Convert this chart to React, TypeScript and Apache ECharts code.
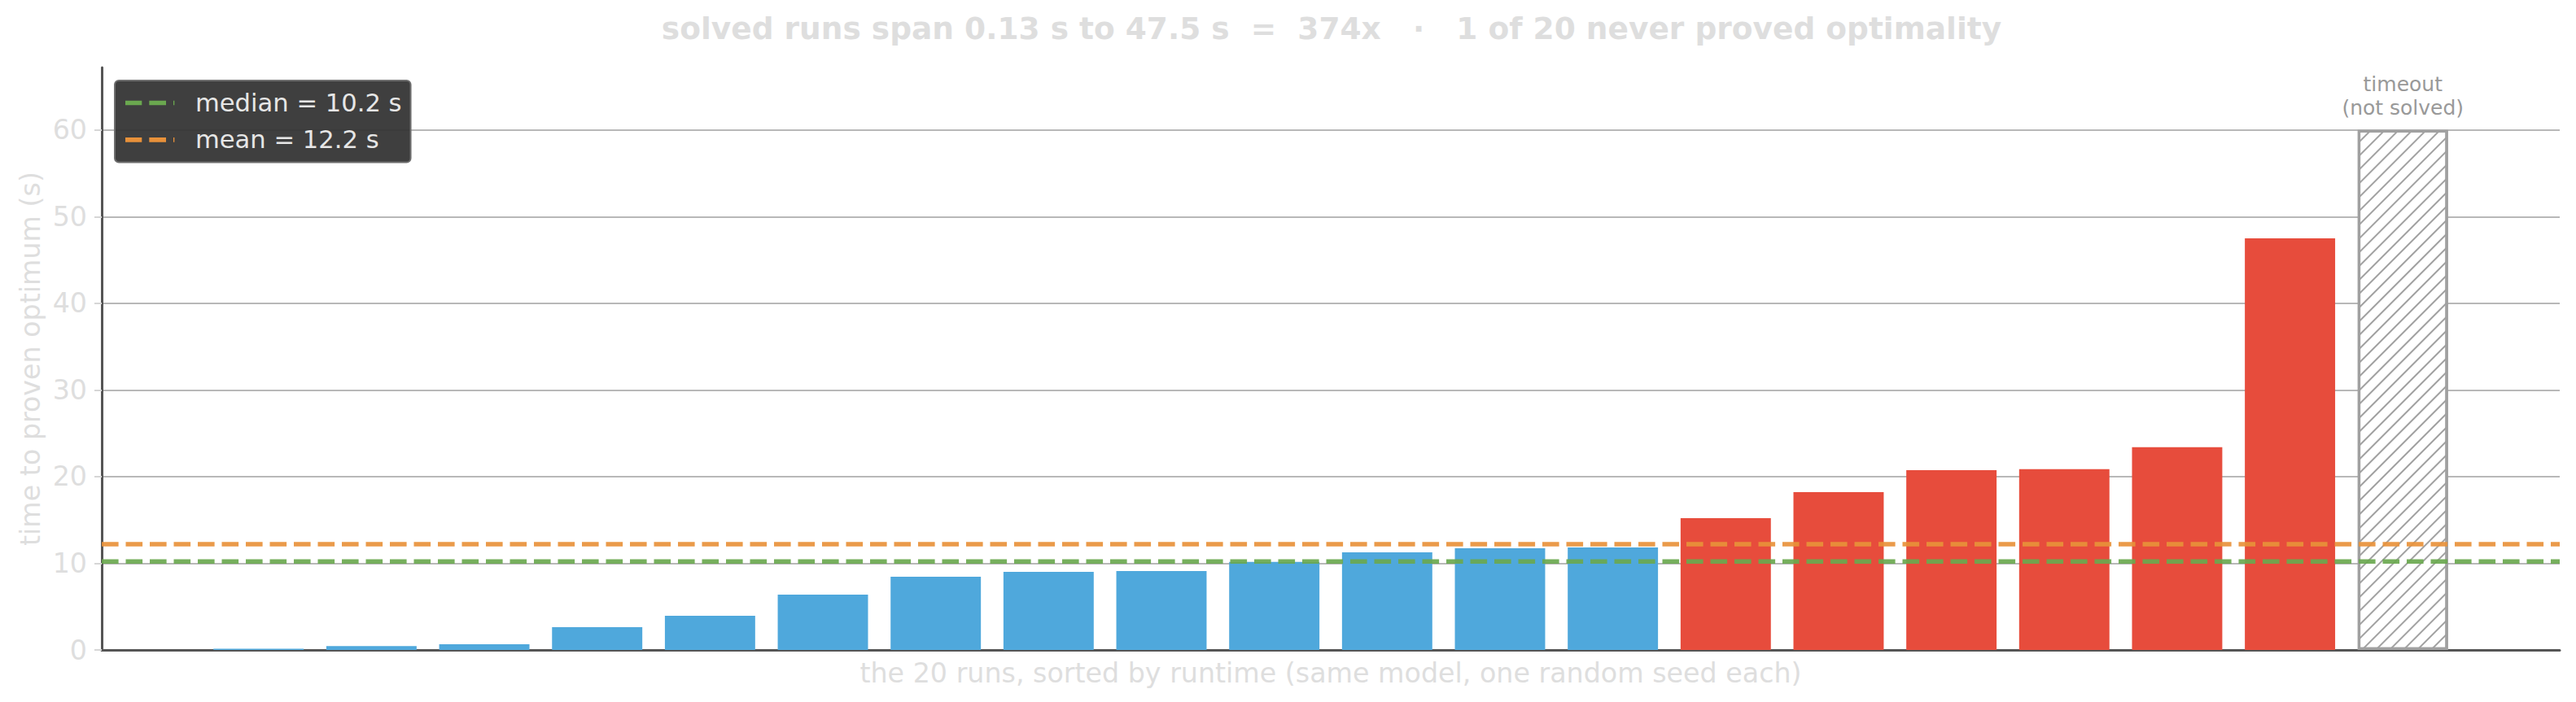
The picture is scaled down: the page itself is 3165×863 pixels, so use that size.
import React, { useEffect, useRef } from "react";
import * as echarts from "echarts";

// ---- data ----
const RUN_TIMES_S = [
  0.13, 0.45, 0.65, 2.63, 3.94, 6.38, 8.45, 9.0, 9.1, 10.15,
  11.27, 11.73, 11.83, 15.2, 18.2, 20.75, 20.85, 23.4, 47.5,
];
const TIMEOUT_S = 60;
const TIMEOUT_LABEL = "timeout\n(not solved)";
const MEDIAN_S = 10.2;
const MEAN_S = 12.2;
const Y_TICKS = [0, 10, 20, 30, 40, 50, 60];
const Y_MAX = 67.2;
const X_MIN = -1.39;
const X_MAX = 20.39;

const TITLE =
  "solved runs span 0.13 s to 47.5 s  =  374x   \u00b7   1 of 20 never proved optimality";
const X_NAME = "the 20 runs, sorted by runtime (same model, one random seed each)";
const Y_NAME = "time to proven optimum (s)";
const MEDIAN_NAME = "median = 10.2 s";
const MEAN_NAME = "mean = 12.2 s";

// ---- styles ----
const BLUE = "#4fa8dc";
const RED = "#e74c3c";
const GREEN = "#6aa84f";
const ORANGE = "#e8913a";
const HATCH = "#a0a0a0";
const LIGHT_TEXT = "#dedede";
const FONT = "DejaVu Sans";

const W = 3165;
const H = 863;

// legend icon: two dashes and a stub, like a matplotlib dashed handle
const LEGEND_ICON =
  "path://M0 0L20.3 0L20.3 5.56L0 5.56Z M29.3 0L50 0L50 5.56L29.3 5.56Z M59 0L60.3 0L60.3 5.56L59 5.56Z M81 0L81 5.56";

export default function App() {
  const ref = useRef<HTMLDivElement>(null);

  useEffect(() => {
    if (!ref.current) return;
    const chart = echarts.init(ref.current, null, { renderer: "svg" });

    const barData: any[] = RUN_TIMES_S.map((v, i) => ({
      value: [i, v],
      itemStyle: { color: v > MEAN_S ? RED : BLUE },
    }));
    barData.push({
      value: [RUN_TIMES_S.length, TIMEOUT_S],
      itemStyle: {
        color: "#ffffff",
        borderColor: HATCH,
        borderWidth: 3.3,
        decal: {
          symbol: "rect",
          symbolSize: 1,
          color: HATCH,
          backgroundColor: "#ffffff",
          dashArrayX: [1, 0],
          dashArrayY: [2, 10],
          rotation: -Math.PI / 4,
        },
      },
      label: {
        show: true,
        position: "top",
        distance: 13,
        formatter: TIMEOUT_LABEL,
        color: "#999999",
        fontSize: 25,
        lineHeight: 28.5,
        fontFamily: FONT,
        align: "center",
      },
    });

    const dash = [20.6, 8.9];

    chart.setOption({
      animation: false,
      backgroundColor: "#ffffff",
      textStyle: { fontFamily: FONT },
      title: {
        text: TITLE,
        left: 1636,
        top: 16,
        padding: 0,
        textAlign: "center",
        textStyle: {
          color: LIGHT_TEXT,
          fontSize: 37.5,
          fontWeight: "bold",
          fontFamily: FONT,
        },
      },
      legend: {
        orient: "vertical",
        left: 141,
        top: 99,
        padding: [12, 11, 12, 13],
        itemGap: 14.4,
        itemWidth: 81,
        itemHeight: 5.56,
        backgroundColor: "rgba(51,51,51,0.94)",
        borderColor: "#6e6e6e",
        borderWidth: 2,
        borderRadius: 5,
        selectedMode: false,
        textStyle: { color: "#e6e6e6", fontSize: 30.6, fontFamily: FONT },
        data: [
          { name: MEDIAN_NAME, icon: LEGEND_ICON, itemStyle: { color: GREEN, borderWidth: 0 } },
          { name: MEAN_NAME, icon: LEGEND_ICON, itemStyle: { color: ORANGE, borderWidth: 0 } },
        ],
      },
      grid: {
        left: 125,
        right: 20,
        top: 83,
        bottom: 64,
        containLabel: false,
        outerBoundsMode: "none",
      },
      xAxis: {
        type: "value",
        min: X_MIN,
        max: X_MAX,
        name: X_NAME,
        nameLocation: "middle",
        nameGap: 12,
        nameTextStyle: { color: LIGHT_TEXT, fontSize: 33.3, fontFamily: FONT },
        axisLine: { show: true, onZero: false, lineStyle: { color: "#555555", width: 3 } },
        axisTick: { show: false },
        axisLabel: { show: false },
        splitLine: { show: false },
      },
      yAxis: {
        type: "value",
        min: 0,
        max: Y_MAX,
        interval: 10,
        name: Y_NAME,
        nameLocation: "middle",
        nameGap: 66,
        nameTextStyle: { color: LIGHT_TEXT, fontSize: 33.3, fontFamily: FONT },
        axisLine: { show: true, onZero: false, lineStyle: { color: "#555555", width: 3 } },
        axisTick: {
          show: true,
          length: 9,
          customValues: Y_TICKS,
          lineStyle: { color: "#d6d6d6", width: 2 },
        },
        axisLabel: {
          show: true,
          margin: 18,
          customValues: Y_TICKS,
          color: LIGHT_TEXT,
          fontSize: 33.3,
          fontFamily: FONT,
        },
        splitLine: { show: true, lineStyle: { color: "#b8b8b8", width: 2 } },
      },
      series: [
        {
          type: "bar",
          name: "runs",
          data: barData,
          barWidth: "80%",
          z: 2,
        },
        {
          type: "line",
          name: MEDIAN_NAME,
          data: [
            [X_MIN, MEDIAN_S],
            [X_MAX, MEDIAN_S],
          ],
          symbol: "none",
          color: GREEN,
          lineStyle: { color: GREEN, width: 5.56, type: dash, opacity: 0.92 },
          z: 4,
        },
        {
          type: "line",
          name: MEAN_NAME,
          data: [
            [X_MIN, MEAN_S],
            [X_MAX, MEAN_S],
          ],
          symbol: "none",
          color: ORANGE,
          lineStyle: { color: ORANGE, width: 5.56, type: dash, opacity: 0.92 },
          z: 4,
        },
      ],
    });

    return () => chart.dispose();
  }, []);

  return (
    <div
      ref={ref}
      style={{ position: "absolute", left: 0, top: 0, width: W, height: H }}
    />
  );
}
